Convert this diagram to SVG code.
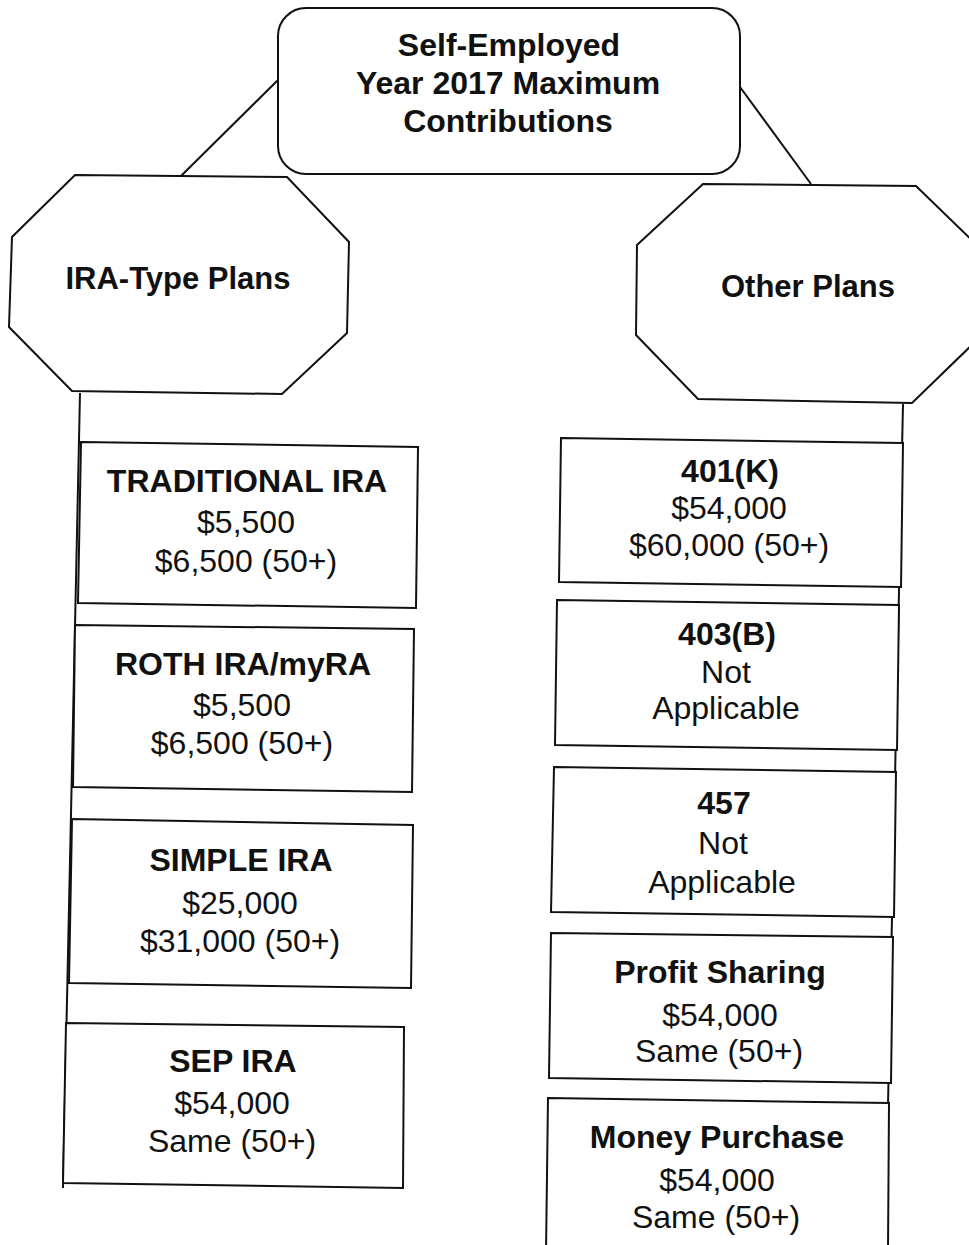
<svg xmlns="http://www.w3.org/2000/svg" width="969" height="1245" viewBox="0 0 969 1245">
<style>
  .shape { fill: #fff; stroke: #111; stroke-width: 2; stroke-linejoin: miter; }
  .conn { stroke: #111; stroke-width: 2; fill: none; }
  text { font-family: "Liberation Sans", Arial, sans-serif; font-size: 32px; fill: #111; text-anchor: middle; }
  .b { font-weight: bold; }
  .oct { font-weight: bold; font-size: 31px; }
</style>
<rect x="0" y="0" width="969" height="1245" fill="#fff"/>
<g id="connectors">
  <line class="conn" x1="278" y1="80" x2="181" y2="176"/>
  <line class="conn" x1="740" y1="87" x2="811" y2="184"/>
  <line class="conn" x1="80" y1="393" x2="63" y2="1188"/>
  <line class="conn" x1="903" y1="404" x2="885" y2="1245"/>
</g>
<g id="title">
  <rect class="shape" x="278" y="8" width="462" height="166" rx="28" ry="28"/>
  <text class="b" x="509" y="56">Self-Employed</text>
  <text class="b" x="508" y="94">Year 2017 Maximum</text>
  <text class="b" x="508" y="132">Contributions</text>
</g>
<g id="ira-type-plans">
  <polygon class="shape" points="75,175 287,177 349,242 347,333 282,394 72,391 9,327 12,237"/>
  <text class="oct" x="178" y="289">IRA-Type Plans</text>
</g>
<g id="other-plans">
  <polygon class="shape" points="703,184 916,186 978,246 977,340 912,403 698,399 636,335 637,245"/>
  <text class="oct" x="808" y="297">Other Plans</text>
</g>
<g id="traditional-ira">
  <polygon class="shape" points="81,442 418,447 416,608 78,603"/>
  <text class="b" x="247" y="492">TRADITIONAL IRA</text>
  <text x="246" y="533">$5,500</text>
  <text x="246" y="572">$6,500 (50+)</text>
</g>
<g id="roth-ira">
  <polygon class="shape" points="75,625 414,629 412,792 73,787"/>
  <text class="b" x="243" y="675">ROTH IRA/myRA</text>
  <text x="242" y="716">$5,500</text>
  <text x="242" y="754">$6,500 (50+)</text>
</g>
<g id="simple-ira">
  <polygon class="shape" points="72,819 413,825 411,988 69,983"/>
  <text class="b" x="241" y="871">SIMPLE IRA</text>
  <text x="240" y="914">$25,000</text>
  <text x="240" y="952">$31,000 (50+)</text>
</g>
<g id="sep-ira">
  <polygon class="shape" points="66,1023 404,1027 403,1188 63,1183"/>
  <text class="b" x="233" y="1072">SEP IRA</text>
  <text x="232" y="1114">$54,000</text>
  <text x="232" y="1152">Same (50+)</text>
</g>
<g id="plan-401k">
  <polygon class="shape" points="561,438 903,443 901,587 559,582"/>
  <text class="b" x="730" y="482">401(K)</text>
  <text x="729" y="519">$54,000</text>
  <text x="729" y="556">$60,000 (50+)</text>
</g>
<g id="plan-403b">
  <polygon class="shape" points="557,600 899,605 897,750 555,745"/>
  <text class="b" x="727" y="645">403(B)</text>
  <text x="726" y="683">Not</text>
  <text x="726" y="719">Applicable</text>
</g>
<g id="plan-457">
  <polygon class="shape" points="554,767 896,772 894,917 551,912"/>
  <text class="b" x="724" y="814">457</text>
  <text x="723" y="854">Not</text>
  <text x="722" y="893">Applicable</text>
</g>
<g id="profit-sharing">
  <polygon class="shape" points="551,933 893,937 891,1083 549,1078"/>
  <text class="b" x="720" y="983">Profit Sharing</text>
  <text x="720" y="1026">$54,000</text>
  <text x="719" y="1062">Same (50+)</text>
</g>
<g id="money-purchase">
  <polygon class="shape" points="548,1098 889,1103 888,1252 546,1252"/>
  <text class="b" x="717" y="1148">Money Purchase</text>
  <text x="717" y="1191">$54,000</text>
  <text x="716" y="1228">Same (50+)</text>
</g>
</svg>
